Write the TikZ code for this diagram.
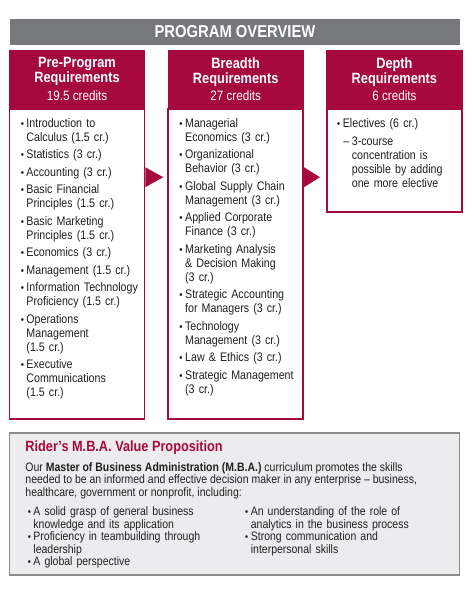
\documentclass[tikz,border=0pt]{standalone}
\usepackage{fontspec}
\setmainfont{Liberation Sans}[FakeStretch=0.86]
\usepackage{enumitem}
\usetikzlibrary{positioning, calc}
\definecolor{ridered}{HTML}{A6093D}
\definecolor{bargrey}{HTML}{77787B}
\definecolor{panelgrey}{HTML}{ECECEF}
\definecolor{panelline}{HTML}{8C8C8C}
\definecolor{bodytext}{HTML}{231F20}
\setlist[itemize]{label={\scalebox{0.85}{\textbullet}}, leftmargin=6pt, labelsep=2.5pt,
                  topsep=0pt, partopsep=0pt, parsep=0pt, itemsep=3.5pt}
\tikzset{
  overbar/.style={rectangle, fill=bargrey, text=white, minimum width=450pt,
                  minimum height=26pt, inner sep=0pt,
                  font=\fontsize{17.2}{19}\selectfont\bfseries},
  colhead/.style={rectangle, draw=ridered, fill=ridered, line width=1.2pt,
                  text=white, minimum width=135pt, minimum height=57pt,
                  inner sep=0pt, align=center,
                  font=\fontsize{14.9}{15}\selectfont\bfseries},
  colbody/.style={rectangle, draw=ridered, fill=white, line width=1.5pt,
                  minimum width=135pt, inner sep=0pt},
  courselist/.style={inner sep=0pt, text width=124pt, align=left,
                     text=bodytext, font=\fontsize{12.4}{14}\selectfont},
  nextstep/.style={fill=ridered},
  valuepanel/.style={rectangle, draw=panelline, fill=panelgrey, line width=1.5pt,
                     minimum width=450pt, minimum height=142pt, inner sep=0pt},
  valuetitle/.style={inner sep=0pt, text=ridered,
                     font=\fontsize{14.8}{16}\selectfont\bfseries},
  valuetext/.style={inner sep=0pt, align=left, text=bodytext,
                    font=\fontsize{12.2}{12.6}\selectfont},
}
\newcommand\credits[1]{{\mdseries\fontsize{13.6}{15}\selectfont #1}}

\begin{document}
\begin{tikzpicture}[x=1pt, y=-1pt]
  \path[use as bounding box, fill=white] (0,0) rectangle (474,592);

  \node[overbar] (overview) at (235,32) {PROGRAM OVERVIEW};

  % --- the three requirement columns ---
  \node[colhead, anchor=north] (prehead) at (77,50)
    {Pre-Program\\Requirements\\[2.5pt]\credits{19.5 credits}};
  \node[colhead, right=22.5pt of prehead] (brhead)
    {Breadth\\Requirements\\[2.5pt]\credits{27 credits}};
  \node[colhead, right=22.5pt of brhead] (dphead)
    {Depth\\Requirements\\[2.5pt]\credits{6 credits}};

  \node[colbody, below=0pt of prehead, minimum height=310pt] (prebody) {};
  \node[colbody, below=0pt of brhead, minimum height=310pt] (brbody) {};
  \node[colbody, below=0pt of dphead, minimum height=103pt] (dpbody) {};

  \node[courselist, anchor=north west] (prelist)
    at ([xshift=11.5pt, yshift=-5pt]prebody.north west) {%
    \begin{itemize}
      \item Introduction to\\Calculus (1.5 cr.)
      \item Statistics (3 cr.)
      \item Accounting (3 cr.)
      \item Basic Financial\\Principles (1.5 cr.)
      \item Basic Marketing\\Principles (1.5 cr.)
      \item Economics (3 cr.)
      \item Management (1.5 cr.)
      \item Information Technology\\Proficiency (1.5 cr.)
      \item Operations\\Management\\(1.5 cr.)
      \item Executive\\Communications\\(1.5 cr.)
    \end{itemize}};
  \node[courselist, anchor=north west] (brlist)
    at ([xshift=11.5pt, yshift=-5pt]brbody.north west) {%
    \begin{itemize}
      \item Managerial\\Economics (3 cr.)
      \item Organizational\\Behavior (3 cr.)
      \item Global Supply Chain\\Management (3 cr.)
      \item Applied Corporate\\Finance (3 cr.)
      \item Marketing Analysis\\\& Decision Making\\(3 cr.)
      \item Strategic Accounting\\for Managers (3 cr.)
      \item Technology\\Management (3 cr.)
      \item Law \& Ethics (3 cr.)
      \item Strategic Management\\(3 cr.)
    \end{itemize}};
  \node[courselist, anchor=north west] (dplist)
    at ([xshift=10.5pt, yshift=-5pt]dpbody.north west) {%
    \begin{itemize}
      \item Electives (6 cr.)
      \begin{itemize}[label=--, leftmargin=9pt, labelsep=2.5pt, topsep=4pt]
        \item 3-course\\concentration is\\possible by adding\\one more elective
      \end{itemize}
    \end{itemize}};

  % arrows between the columns
  \fill[nextstep] ([yshift=-59pt]prebody.north east) -- ++(18,10) -- ++(-18,10) -- cycle;
  \fill[nextstep] ([yshift=-59pt]brbody.north east) -- ++(16,10) -- ++(-16,10) -- cycle;

  % --- value proposition panel ---
  \node[valuepanel, anchor=north] (value) at (234.5,432) {};
  \node[valuetitle, anchor=north west] (valtitle)
    at ([xshift=16.5pt, yshift=-9pt]value.north west)
    {Rider’s M.B.A. Value Proposition};
  \node[valuetext, below=7pt of valtitle.south west, anchor=north west] (valtext)
    {Our \textbf{Master of Business Administration (M.B.A.)} curriculum promotes the skills\\
     needed to be an informed and effective decision maker in any enterprise -- business,\\
     healthcare, government or nonprofit, including:};
  \node[valuetext, text width=217pt, below=3.5pt of valtext.south west,
        anchor=north west, xshift=2pt] (valleft) {%
    \begin{itemize}[itemsep=0pt]
      \item A solid grasp of general business\\knowledge and its application
      \item Proficiency in teambuilding through\\leadership
      \item A global perspective
    \end{itemize}};
  \node[valuetext, text width=200pt, anchor=north west] (valright)
    at (valleft.north east) {%
    \begin{itemize}[itemsep=0pt]
      \item An understanding of the role of\\analytics in the business process
      \item Strong communication and\\interpersonal skills
    \end{itemize}};
\end{tikzpicture}
\end{document}
